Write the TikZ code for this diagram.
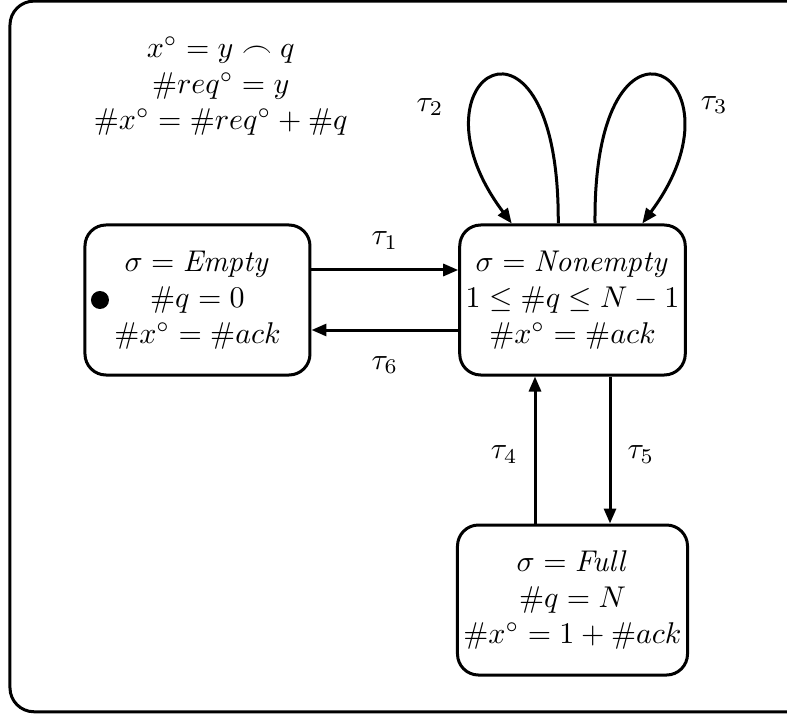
\documentclass[tikz,border=0pt]{standalone}
\usepackage{tikz}
\usetikzlibrary{arrows.meta, calc, positioning}

\tikzset{
  state/.style={draw, line width=1pt, rounded corners=7pt, align=center,
    minimum width=75pt, minimum height=50pt, inner sep=2pt},
  trans/.style={line width=1pt, -{Triangle[length=5pt,width=4pt]}}
}

\begin{document}
\begin{tikzpicture}[x=25pt, y=25pt]

% Fix the page and clip the outer frame
\clip (-2.633,-5.533) rectangle (7.86,4);

% Outer frame
\draw[line width=1pt, rounded corners=8pt] (-2.5,-5.49) rectangle (8.3,3.985);

% Invariants at the top left
\node (inv) at (0.31,2.85) [align=center]
  {$x^\circ = y \frown q$\\ $\#req^\circ = y$\\ $\#x^\circ = \#req^\circ + \#q$};

% The three states
\node[state] (empty) at (0,0) {$\sigma = \mathit{Empty}$\\ $\#q = 0$\\ $\#x^\circ = \#ack$};
\node[state] (nonempty) at (5,0) {$\sigma = \mathit{Nonempty}$\\ $1 \le \#q \le N-1$\\ $\#x^\circ = \#ack$};
\node[state] (full) at (5,-4) {$\sigma = \mathit{Full}$\\ $\#q = N$\\ $\#x^\circ = 1 + \#ack$};

% Initial state marker
\fill (-1.3,0) circle (3pt);

% Empty <-> Nonempty
\draw[trans] ([yshift=10pt]empty.east) -- ([yshift=10pt]nonempty.west)
  node[midway, above=3pt] {$\tau_1$};
\draw[trans] ([yshift=-10pt]nonempty.west) -- ([yshift=-10pt]empty.east)
  node[midway, below=5pt] {$\tau_6$};

% Nonempty <-> Full
\draw[trans] ([xshift=-12.5pt]full.north) -- ([xshift=-12.5pt]nonempty.south)
  node[pos=0.47, left=2pt] {$\tau_4$};
\draw[trans] ([xshift=12.5pt]nonempty.south) -- ([xshift=12.5pt]full.north)
  node[pos=0.53, right=2pt] {$\tau_5$};

% Self loops on Nonempty
\coordinate (L2a) at ($(nonempty.north)+(-0.19,0)$);
\coordinate (L2b) at ($(nonempty.north)+(-0.81,0)$);
\coordinate (L3a) at ($(nonempty.north)+(0.3,0)$);
\coordinate (L3b) at ($(nonempty.north)+(0.93,0)$);
\draw[trans] (L2a) .. controls (4.83,4.25) and (2.7,3.0) .. (L2b);
\draw[trans] (L3a) .. controls (5.27,4.25) and (7.41,3.0) .. (L3b);
\node at (3.1,2.57) {$\tau_2$};
\node at (6.89,2.6) {$\tau_3$};

\end{tikzpicture}
\end{document}
